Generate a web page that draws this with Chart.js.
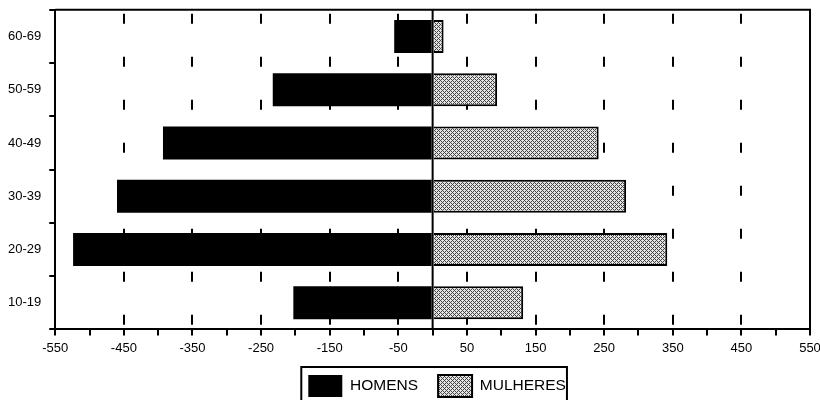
<!DOCTYPE html>
<html>
<head>
<meta charset="utf-8">
<script src="https://cdn.jsdelivr.net/npm/chart.js@4.4.0/dist/chart.umd.min.js"></script>
<style>body{margin:0;background:#fff}</style>
</head>
<body>
<canvas id="pyramid" width="820" height="400"></canvas>
<script>
const faixas = ['60-69','50-59','40-49','30-39','20-29','10-19'];
const homens = [-56,-233,-393,-460,-524,-203];
const mulheres = [16,94,242,282,342,132];
const xMin = -550, xMax = 550, xStep = 50;

const canvas = document.getElementById('pyramid');
const FONT = 'Liberation Sans, Arial, sans-serif';

// dithered grey like the old printout
const makePattern = () => {
    const c = document.createElement('canvas');
    c.width = 4; c.height = 4;
    const g = c.getContext('2d');
    g.fillStyle = '#e4e4e4';
    g.fillRect(0,0,4,4);
    g.fillStyle = '#444';
    for (let y=0;y<4;y++) for (let x=0;x<4;x++) {
        if ((x+y)%2===0 && !(x===0 && y===2) && !(x===2 && y===0)) g.fillRect(x,y,1,1);
    }
    return canvas.getContext('2d').createPattern(c,'repeat');
}

// where the legend row starts (left edge of first swatch)
const legendRowX = (lg) => {
    const pad = lg.options.labels.padding;
    return (lg.left + pad + lg.right - lg.lineWidths[0]) / 2;
}

const frame = {
    id: 'frame',
    afterUpdate(chart) {
        // centre the legend row under the zero line and drop it a bit lower
        const lg = chart.legend;
        const pad = lg.options.labels.padding;
        const lw = lg.lineWidths[0];
        const x0 = chart.scales.x.getPixelForValue(0);
        const shift = x0 + 4.5 - (lw - pad) / 2 - legendRowX(lg);
        lg.left += shift;
        lg.right += shift;
        lg.top = chart.scales.x.bottom - 6;
        lg.bottom = chart.height;
        lg.height = lg.bottom - lg.top;
    },
    afterDatasetsDraw(chart) {
        const {ctx, chartArea: a, scales: {x}} = chart;
        const x0 = x.getPixelForValue(0);
        ctx.save();
        ctx.strokeStyle = '#000';
        ctx.lineWidth = 2;
        ctx.beginPath();
        ctx.moveTo(x0, a.top); ctx.lineTo(x0, a.bottom);
        ctx.stroke();
        ctx.beginPath();
        ctx.moveTo(a.left, a.top); ctx.lineTo(a.right, a.top); ctx.lineTo(a.right, a.bottom);
        ctx.stroke();
        ctx.restore();
    },
    afterDraw(chart) {
        const lg = chart.legend;
        const pad = lg.options.labels.padding;
        const left = legendRowX(lg) - 7;
        const w = lg.lineWidths[0] - pad + 8;
        const top = lg.top + pad - 8;
        const ctx = chart.ctx;
        ctx.save();
        ctx.strokeStyle = '#000';
        ctx.lineWidth = 2;
        ctx.strokeRect(left, top, w, 50);
        ctx.restore();
    }
};

new Chart(canvas, {
    type: 'bar',
    data: {
        labels: faixas,
        datasets: [{
            label: 'HOMENS',
            data: homens,
            backgroundColor: '#000',
            borderWidth: 0
        },{
            label: 'MULHERES',
            data: mulheres,
            backgroundColor: makePattern(),
            borderColor: '#000',
            borderWidth: 2
        }]
    },
    options: {
        indexAxis: 'y',
        responsive: false,
        animation: false,
        barPercentage: 0.62,
        categoryPercentage: 1.0,
        layout: {padding: {top: 6, left: 6, right: 0, bottom: 5}},
        plugins: {
            tooltip: {enabled: false},
            legend: {
                position: 'bottom',
                maxHeight: 34,
                labels: {
                    boxWidth: 34,
                    boxHeight: 22,
                    color: '#000',
                    padding: 20,
                    font: {family: FONT, size: 15.5}
                }
            }
        },
        scales: {
            x: {
                type: 'linear',
                min: xMin,
                max: xMax,
                stacked: true,
                afterFit: s => { s.paddingRight = 10; },
                ticks: {
                    stepSize: xStep,
                    autoSkip: false,
                    maxRotation: 0,
                    color: '#000',
                    padding: 5,
                    font: {family: FONT, size: 13},
                    callback: (v,i) => i%2===0 ? v : ''
                },
                grid: {
                    color: c => (c.index%2===0 && c.index>0 && c.index<22) ? '#000' : 'rgba(0,0,0,0)',
                    lineWidth: 2,
                    tickColor: '#000',
                    tickWidth: 2,
                    tickLength: 6
                },
                border: {color: '#000', width: 2, dash: [10,33], dashOffset: 39}
            },
            y: {
                stacked: true,
                ticks: {
                    color: '#000',
                    padding: 2,
                    font: {family: FONT, size: 13}
                },
                grid: {
                    drawOnChartArea: false,
                    color: '#000',
                    lineWidth: 2,
                    tickLength: 12,
                    tickBorderDash: [6, 40],
                    tickBorderDashOffset: 40
                },
                border: {color: '#000', width: 2}
            }
        }
    },
    plugins: [frame]
});
</script>
</body>
</html>
